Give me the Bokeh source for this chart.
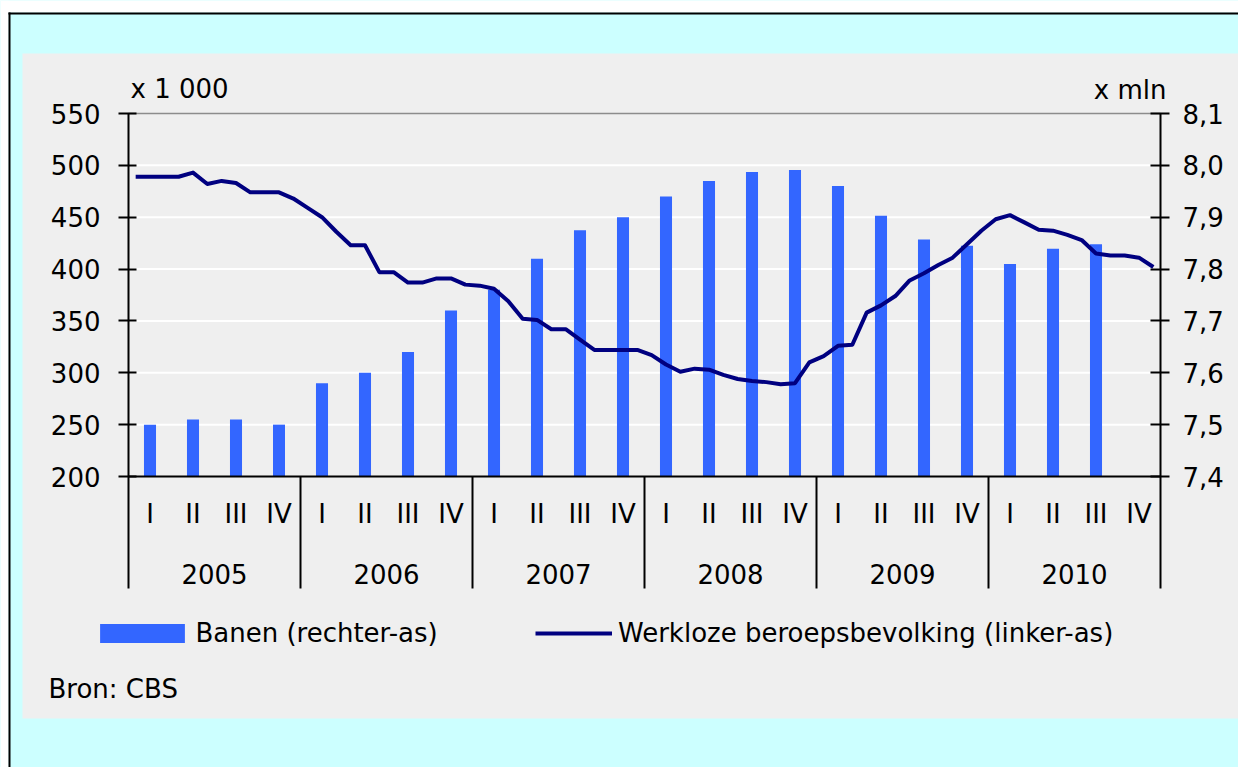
from bokeh.plotting import figure
from bokeh.models import (Range1d, LinearAxis, FixedTicker, CustomJSTickFormatter,
                          Legend, LegendItem)
from bokeh.core.properties import value
from bokeh.embed import file_html
from bokeh.resources import INLINE

# ---------------- data ----------------
years = ["2005", "2006", "2007", "2008", "2009", "2010"]
quarters = ["I", "II", "III", "IV"]

# Banen (x mln, rechter-as), per kwartaal 2005 I .. 2010 III
banen = [7.50, 7.51, 7.51, 7.50,
         7.58, 7.60, 7.64, 7.72,
         7.76, 7.82, 7.875, 7.90,
         7.94, 7.97, 7.987, 7.991,
         7.96, 7.903, 7.857, 7.845,
         7.81, 7.839, 7.848]

# Werkloze beroepsbevolking (x 1 000, linker-as), per maand 2005 .. 2010
werkloos = [
    489, 489, 489, 489, 493, 482, 485, 483, 474, 474, 474, 468,   # 2005
    459, 450, 436, 423, 423, 397, 397, 387, 387, 391, 391, 385,   # 2006
    384, 381, 369, 352, 351, 342, 342, 332, 322, 322, 322, 322,   # 2007
    317, 308, 301, 304, 303, 298, 294, 292, 291, 289, 290, 310,   # 2008
    316, 326, 327, 358, 365, 374, 389, 396, 404, 411, 424, 437,   # 2009
    448, 452, 445, 438, 437, 433, 428, 415, 413, 413, 411, 402,   # 2010
]

left_ticks = [200, 250, 300, 350, 400, 450, 500, 550]
right_ticks = [7.4, 7.5, 7.6, 7.7, 7.8, 7.9, 8.0, 8.1]
left_unit = "x 1 000"
right_unit = "x mln"
bar_label = "Banen (rechter-as)"
line_label = "Werkloze beroepsbevolking (linker-as)"
source_note = "Bron: CBS"

# ---------------- style / layout ----------------
FONT = "DejaVu Sans"
FS = "26px"
BAR = "#3366FF"
LINE = "#000080"
PANEL = "#EFEFEF"
CYAN = "#CCFFFF"

W, H = 1238, 767
PL, PR, PT, PB = 128, 1160, 113, 476          # plot area in canvas pixels
n_slots = len(years) * len(quarters)
slot = (PR - PL) / n_slots
vpp_l = (left_ticks[-1] - left_ticks[0]) / (PB - PT)
vpp_r = (right_ticks[-1] - right_ticks[0]) / (PB - PT)

p = figure(width=W, height=H, output_backend="svg", toolbar_location=None,
           x_range=Range1d(-PL / slot, (W - PL) / slot),
           y_range=Range1d(left_ticks[0] - (H - PB) * vpp_l, left_ticks[-1] + PT * vpp_l),
           x_axis_location=None, y_axis_location=None,
           min_border=0, min_border_left=0, min_border_right=0,
           min_border_top=0, min_border_bottom=0)
p.extra_y_ranges = {
    "banen": Range1d(right_ticks[0] - (H - PB) * vpp_r, right_ticks[-1] + PT * vpp_r),
    "px": Range1d(H, 0),
}
p.extra_x_ranges = {"px": Range1d(0, W)}
p.grid.visible = False
p.outline_line_color = None
p.background_fill_color = CYAN
p.border_fill_color = CYAN

# ---- page decoration (pixel coordinates) ----
def deco(l, r, t, b, color):
    p.quad(left=l, right=r, top=t, bottom=b, fill_color=color, line_color=None,
           x_range_name="px", y_range_name="px")

deco(0, W, 0, 12, "white")
deco(0, 8, 0, H, "white")
deco(8, W, 12, 14, "black")
deco(8, 10, 12, H, "black")
deco(22, W, 53, 718, PANEL)

# ---- grid lines, top line ----
p.segment(x0=0, x1=n_slots, y0=left_ticks[1:-1], y1=left_ticks[1:-1],
          line_color="white", line_width=2)
p.segment(x0=0, x1=n_slots, y0=left_ticks[-1], y1=left_ticks[-1],
          line_color="#8c8c8c", line_width=1.5)

# ---- data marks ----
bar_x = [i + 0.5 for i in range(len(banen))]
month_x = [(m + 0.5) / 3 for m in range(len(werkloos))]
bars = p.vbar(x=bar_x, top=banen, bottom=right_ticks[0], width=0.28, y_range_name="banen",
              fill_color=BAR, line_color=None)
line = p.line(month_x, werkloos, line_color=LINE, line_width=4, line_join="round")

# base line
p.segment(x0=0, x1=n_slots, y0=left_ticks[0], y1=left_ticks[0],
          line_color="black", line_width=2)

# ---- axes ----
yl = LinearAxis(fixed_location=0, ticker=FixedTicker(ticks=left_ticks),
                bounds=(left_ticks[0], left_ticks[-1]))
yr = LinearAxis(fixed_location=n_slots, y_range_name="banen", ticker=FixedTicker(ticks=right_ticks),
                bounds=(right_ticks[0], right_ticks[-1]),
                formatter=CustomJSTickFormatter(code="return tick.toFixed(1).replace('.', ',');"))
for ax, tin, tout, so in ((yl, 8, 10, 18), (yr, 10, 9, 13)):
    ax.axis_line_width = 2
    ax.axis_line_color = "black"
    ax.major_tick_line_width = 2
    ax.major_tick_in = tin
    ax.major_tick_out = tout
    ax.minor_tick_line_color = None
    ax.major_label_standoff = so
    ax.major_label_text_font = FONT
    ax.major_label_text_font_size = FS
    ax.major_label_text_color = "black"
p.add_layout(yl, "left")
p.add_layout(yr, "right")

# ---- category axis below: separators, quarter and year labels ----
sep_x = [k * len(quarters) for k in range(len(years) + 1)]
p.segment(x0=sep_x, x1=sep_x, y0=PB, y1=588, line_color="black", line_width=2,
          y_range_name="px")

def txt(x, y, t, align, xr="default"):
    p.text(x=x, y=y, text=t, x_range_name=xr, y_range_name="px",
           text_align=align, text_baseline="alphabetic",
           text_font=value(FONT), text_font_size=value(FS), text_color="black")

q_x = [i + 0.5 for i in range(n_slots)]
q_t = [q for _ in years for q in quarters]
txt(q_x, [513] * len(q_x), q_t, "center")
y_x = [(k + 0.5) * len(quarters) for k in range(len(years))]
txt(y_x, [573] * len(years), years, "center")

# ---- unit labels and source ----
txt([130], [88], [left_unit], "left", "px")
txt([1166], [89], [right_unit], "right", "px")
txt([48], [688], [source_note], "left", "px")

# ---- legends ----
def legend(item, x, y, gw, gh, standoff):
    lg = Legend(items=[item], location=(x, H - y), orientation="horizontal",
                glyph_width=gw, glyph_height=gh, label_height=gh, label_standoff=standoff,
                padding=0, margin=0, spacing=0, border_line_color=None,
                background_fill_alpha=0, label_text_font=FONT, label_text_font_size=FS,
                label_text_color="black")
    p.add_layout(lg)

legend(LegendItem(label=bar_label, renderers=[bars]), 89.4, 648, 106, 24, 0)
legend(LegendItem(label=line_label, renderers=[line]), 535, 648, 77, 24, 6)

open("out.html", "w").write(file_html(p, INLINE, title="Banen en werkloze beroepsbevolking"))
